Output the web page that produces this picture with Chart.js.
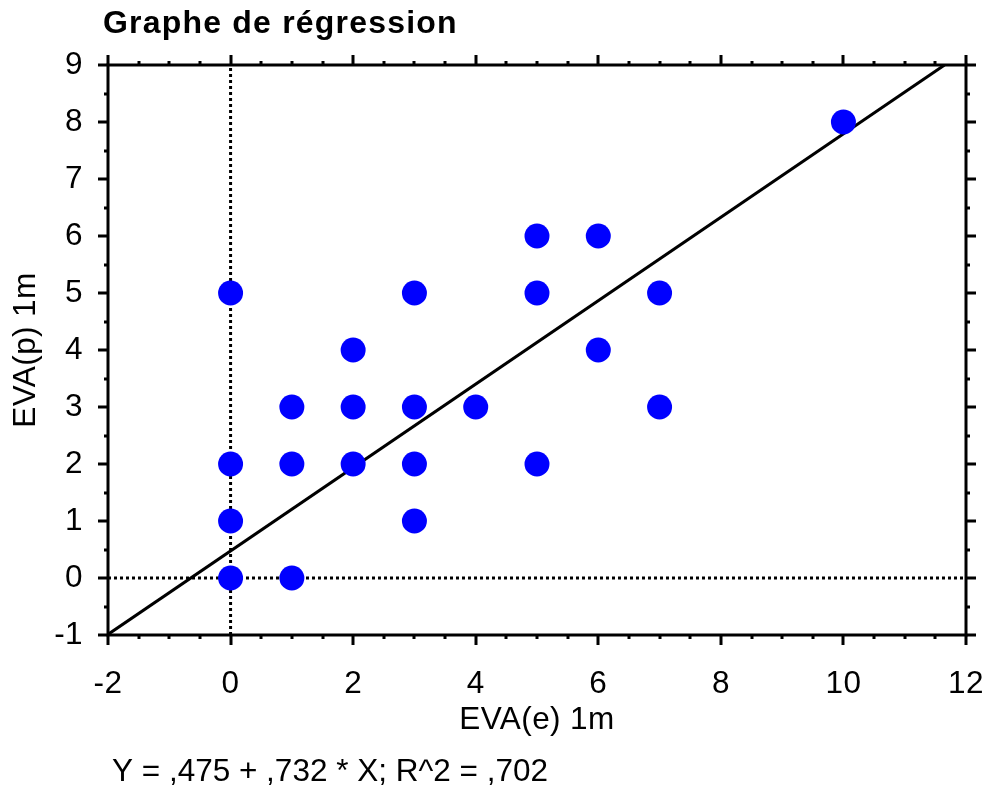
<!DOCTYPE html>
<html><head><meta charset="utf-8">
<script src="https://cdn.jsdelivr.net/npm/chart.js@4.4.0/dist/chart.umd.min.js"></script>
<style>html,body{margin:0;padding:0;background:#fff}#wrap{width:986px;height:790px}</style>
</head><body><div id="wrap"><canvas id="c" width="986" height="790"></canvas></div>
<script>
const chartTitle = 'Graphe de régression';
const xAxisTitle = 'EVA(e) 1m';
const yAxisTitle = 'EVA(p) 1m';
const equationText = 'Y = ,475 + ,732 * X; R^2 = ,702';
const obsX = [0,0,0,0,1,1,1,2,2,2,3,3,3,3,4,5,5,5,6,6,7,7,10];
const obsY = [5,2,1,0,3,2,0,4,3,2,5,3,2,1,3,6,5,2,6,4,5,3,8];
const fitX = [-2, 11.65];
const fitY = [-0.99, 9];
const refVX = [0, 0], refVY = [-1, 9];
const refHX = [-2, 12], refHY = [0, 0];
const xTickValues = [-2,0,2,4,6,8,10,12];
const yTickValues = [-1,0,1,2,3,4,5,6,7,8,9];
const xMin = -2, xMax = 12, yMin = -1, yMax = 9;

const FONT = "'Liberation Sans', Arial, sans-serif";
const pts = (xs, ys) => xs.map((x, i) => ({x: x, y: ys[i]}));

const framePlugin = {
  id: 'frame',
  beforeDraw(chart) { chart.ctx.letterSpacing = '0.4px'; },
  afterDatasetsDraw(chart) {
    const ctx = chart.ctx, a = chart.chartArea;
    const xs = chart.scales.x, ys = chart.scales.y;
    ctx.save();
    ctx.letterSpacing = '0px';
    ctx.strokeStyle = '#000';
    ctx.lineWidth = 3;
    ctx.lineCap = 'butt';
    ctx.strokeRect(a.left, a.top, a.right - a.left, a.bottom - a.top);
    const major = 10, minor = 4;
    ctx.beginPath();
    for (let v = xMin; v <= xMax + 1e-9; v += 0.5) {
      const px = Math.round(xs.getPixelForValue(v));
      const len = xTickValues.includes(v) ? major : minor;
      ctx.moveTo(px, a.top); ctx.lineTo(px, a.top - len);
      ctx.moveTo(px, a.bottom); ctx.lineTo(px, a.bottom + len);
    }
    for (let v = yMin; v <= yMax + 1e-9; v += 0.5) {
      const py = Math.round(ys.getPixelForValue(v));
      const len = yTickValues.includes(v) ? major : minor;
      ctx.moveTo(a.left, py); ctx.lineTo(a.left - len, py);
      ctx.moveTo(a.right, py); ctx.lineTo(a.right + len, py);
    }
    ctx.stroke();
    ctx.restore();
  },
  afterDraw(chart) {
    const ctx = chart.ctx;
    ctx.save();
    ctx.fillStyle = '#000';
    ctx.textBaseline = 'alphabetic';
    ctx.textAlign = 'left';
    ctx.font = 'bold 32px ' + FONT;
    ctx.letterSpacing = '1.2px';
    ctx.fillText(chartTitle, 103, 33);
    ctx.font = '31.5px ' + FONT;
    ctx.letterSpacing = '0px';
    ctx.fillText(equationText, 112, 781);
    ctx.restore();
  }
};

new Chart(document.getElementById('c'), {
  type: 'scatter',
  data: {
    datasets: [
      { label: 'obs', data: pts(obsX, obsY), pointRadius: 12.5, pointHoverRadius: 12.5,
        backgroundColor: '#0000ff', borderWidth: 0, showLine: false, order: 0 },
      { label: 'fit', data: pts(fitX, fitY), showLine: true, pointRadius: 0,
        borderColor: '#000', borderWidth: 3, order: 1 },
      { label: 'refV', data: pts(refVX, refVY), showLine: true, pointRadius: 0,
        borderColor: '#000', borderWidth: 3, borderDash: [3, 3], order: 2 },
      { label: 'refH', data: pts(refHX, refHY), showLine: true, pointRadius: 0,
        borderColor: '#000', borderWidth: 3, borderDash: [3, 3], order: 2 }
    ]
  },
  options: {
    responsive: false,
    animation: false,
    events: [],
    layout: { padding: { left: 0, top: 65, right: 20, bottom: 51 } },
    plugins: { legend: { display: false }, tooltip: { enabled: false }, title: { display: false } },
    scales: {
      x: {
        type: 'linear', min: xMin, max: xMax,
        afterBuildTicks: s => { s.ticks = xTickValues.map(v => ({ value: v })); },
        afterFit: s => { s.height = 104; s.paddingLeft = 0; s.paddingRight = 0; },
        grid: { display: false, drawTicks: false },
        border: { display: false },
        ticks: { color: '#000', font: { family: FONT, size: 31.5 }, padding: 30, maxRotation: 0,
                 callback: v => String(v) },
        title: { display: true, text: xAxisTitle, color: '#000', font: { family: FONT, size: 31.5 },
                 padding: { top: 0, bottom: 0 } }
      },
      y: {
        type: 'linear', min: yMin, max: yMax,
        afterBuildTicks: s => { s.ticks = yTickValues.map(v => ({ value: v })); },
        afterFit: s => { s.width = 108; s.paddingTop = 0; s.paddingBottom = 0; },
        grid: { display: false, drawTicks: false },
        border: { display: false },
        ticks: { color: '#000', font: { family: FONT, size: 31.5 }, padding: 25,
                 callback: v => String(v) },
        title: { display: true, text: yAxisTitle, color: '#000', font: { family: FONT, size: 31.5 },
                 padding: { top: 7, bottom: 0 } }
      }
    }
  },
  plugins: [framePlugin]
});
</script>
</body></html>
